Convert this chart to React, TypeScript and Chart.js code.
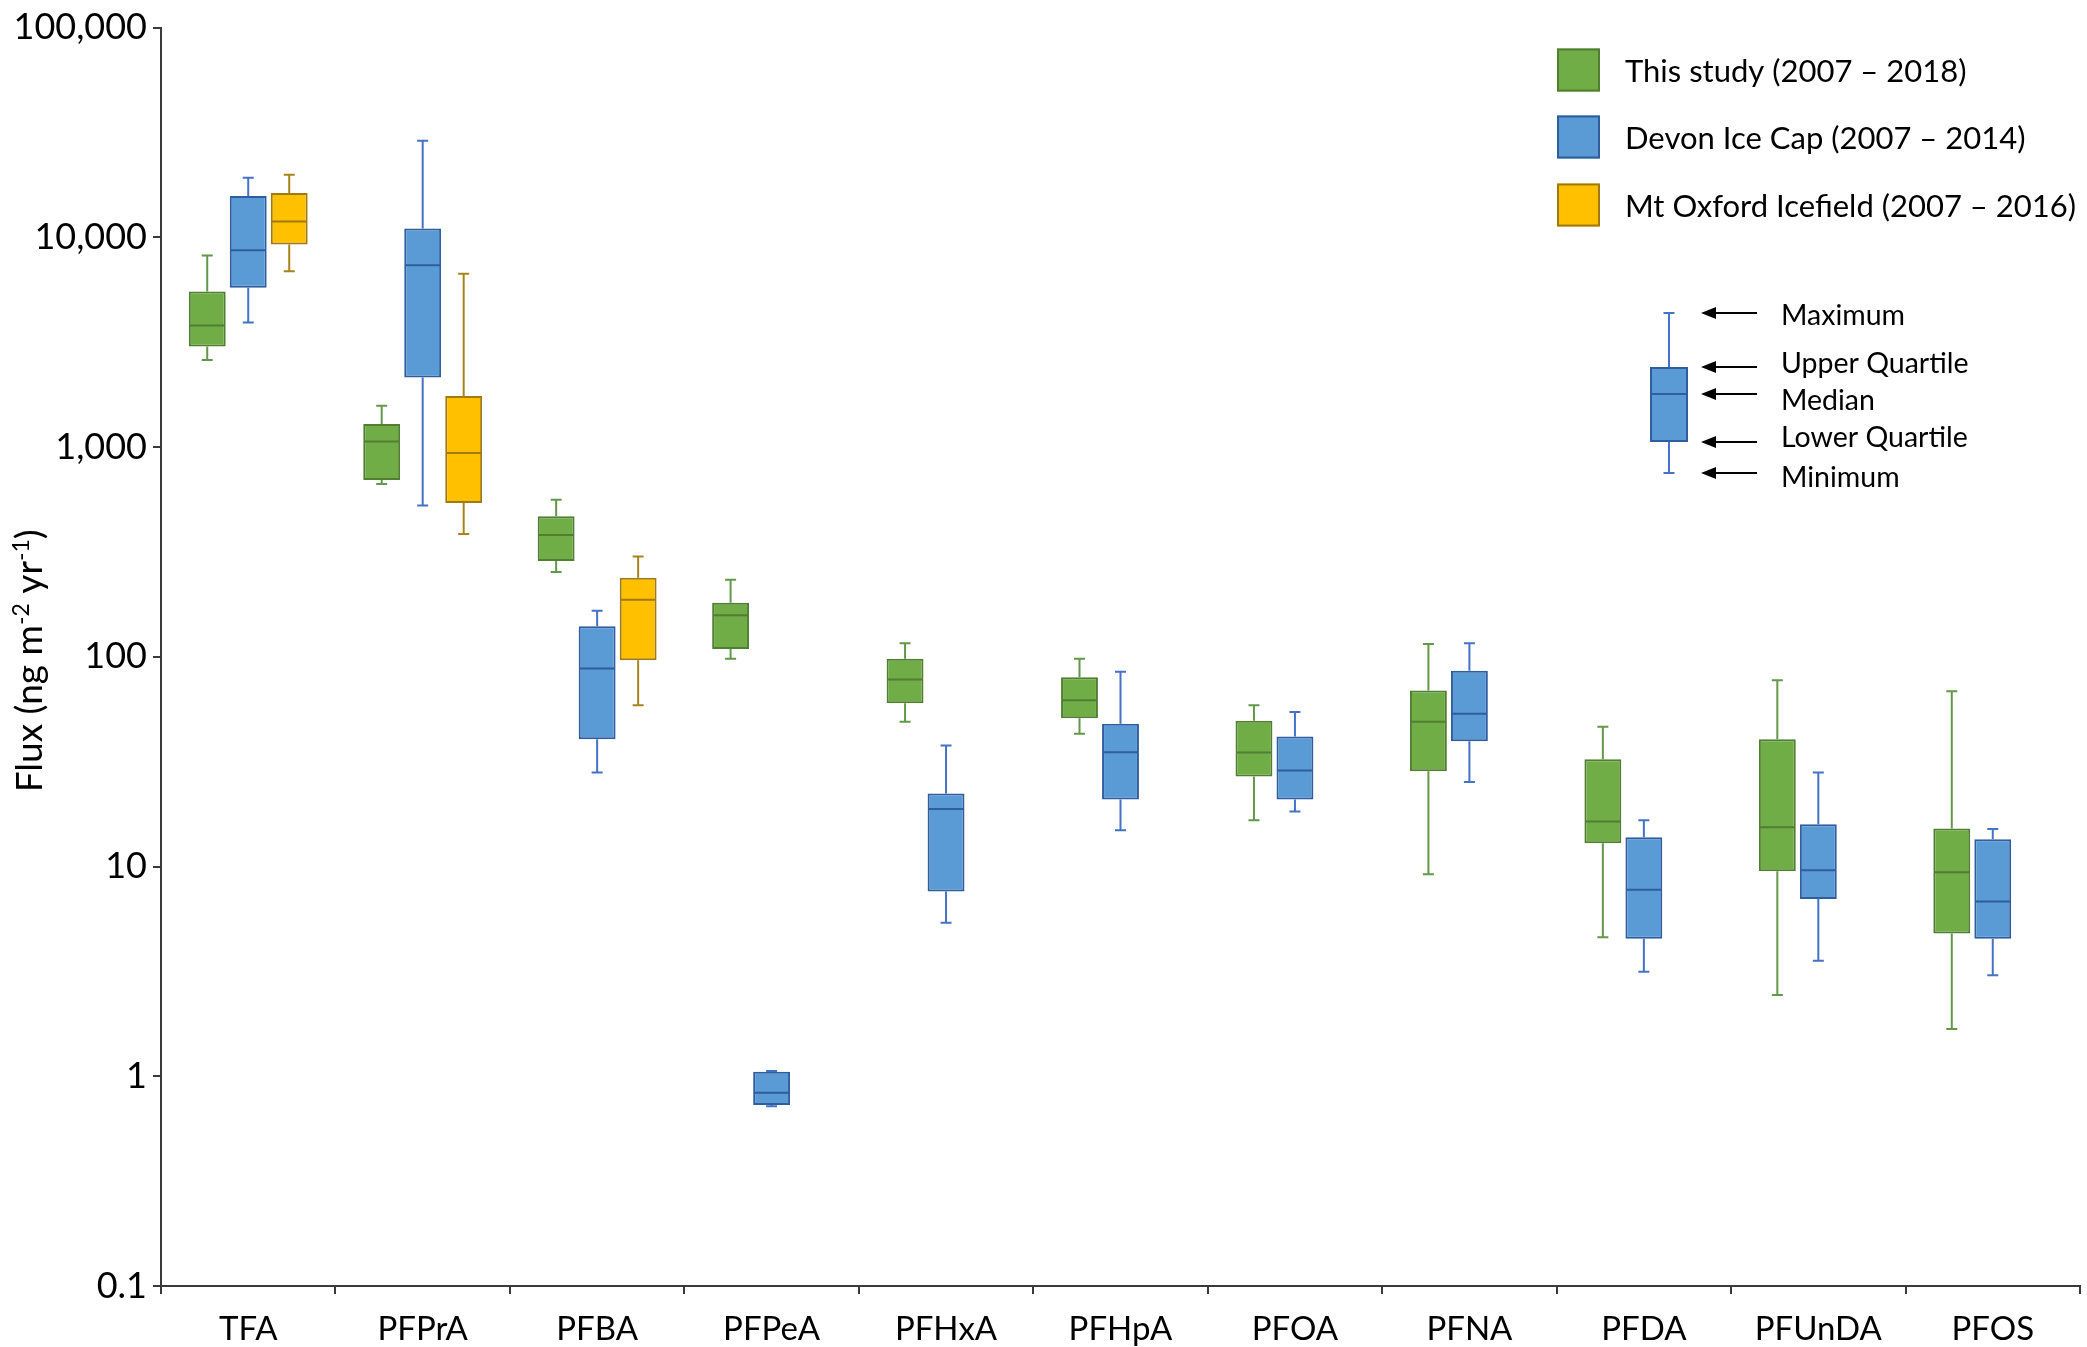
import React, { useEffect, useRef } from 'react';
import { Chart, registerables } from 'chart.js';

Chart.register(...registerables);

const FONT = 'Lato, "Open Sans", sans-serif';

// ---------------- data ----------------
const categories = ['TFA', 'PFPrA', 'PFBA', 'PFPeA', 'PFHxA', 'PFHpA', 'PFOA', 'PFNA', 'PFDA', 'PFUnDA', 'PFOS'];
const yTickValues = [0.1, 1, 10, 100, 1000, 10000, 100000];

const seriesLabels = ['This study (2007 – 2018)', 'Devon Ice Cap (2007 – 2014)', 'Mt Oxford Icefield (2007 – 2016)'];

// This study (2007 – 2018)
const studyMin = [2600, 667, 254, 98, 49, 43, 16.6, 9.2, 4.6, 2.44, 1.68];
const studyQ1 = [3020, 697, 286, 109, 60, 51, 26.9, 28.5, 12.9, 9.5, 4.8];
const studyMedian = [3800, 1064, 381, 158, 78, 62, 35, 49, 16.4, 15.4, 9.4];
const studyQ3 = [5520, 1287, 468, 181, 98, 80, 49.5, 69, 32.5, 40.4, 15.2];
const studyMax = [8190, 1572, 561, 233, 116, 98, 58.7, 115, 46.4, 77.3, 68.5];

// Devon Ice Cap (2007 – 2014)
const devonMin = [3930, 526, 28.1, 0.72, 5.4, 14.9, 18.3, 25.3, 3.15, 3.55, 3.03];
const devonQ1 = [5750, 2146, 40.4, 0.73, 7.6, 20.9, 20.9, 39.6, 4.53, 7.0, 4.53];
const devonMedian = [8680, 7370, 88, 0.835, 18.8, 35.1, 28.7, 53.5, 7.75, 9.6, 6.82];
const devonQ3 = [15750, 11010, 140, 1.05, 22.3, 48, 41.7, 85.7, 13.8, 15.9, 13.5];
const devonMax = [19260, 28880, 166, 1.06, 37.8, 84.8, 54.6, 116, 16.6, 28.1, 15.1];

// Mt Oxford Icefield (2007 – 2016)
const oxfordMin = [6900, 385, 58.8, null, null, null, null, null, null, null, null];
const oxfordQ1 = [9240, 541, 96.2, null, null, null, null, null, null, null, null];
const oxfordMedian = [11890, 937, 187, null, null, null, null, null, null, null, null];
const oxfordQ3 = [16280, 1754, 238, null, null, null, null, null, null, null, null];
const oxfordMax = [19900, 6705, 301, null, null, null, null, null, null, null, null];

const keyLabels = ['Maximum', 'Upper Quartile', 'Median', 'Lower Quartile', 'Minimum'];

// ---------------- styles ----------------
const fillColors = ['#70AD47', '#5B9BD5', '#FFC000'];
const edgeColors = ['#507E32', '#2F5D9E', '#A07A10'];
const whiskerColors = ['#62984A', '#4472C4', '#A8841E'];
const AXIS_COLOR = '#3a3a3a';

type Stats = { min: (number | null)[]; q1: (number | null)[]; med: (number | null)[]; q3: (number | null)[]; max: (number | null)[] };

const stats: Stats[] = [
  { min: studyMin, q1: studyQ1, med: studyMedian, q3: studyQ3, max: studyMax },
  { min: devonMin, q1: devonQ1, med: devonMedian, q3: devonQ3, max: devonMax },
  { min: oxfordMin, q1: oxfordQ1, med: oxfordMedian, q3: oxfordQ3, max: oxfordMax },
];

const CAP = 11;

const boxPlugin = {
  id: 'boxWhiskers',
  beforeDatasetsDraw(chart: any) {
    const ctx = chart.ctx;
    const y = chart.scales.y;
    stats.forEach((s, d) => {
      const meta = chart.getDatasetMeta(d);
      meta.data.forEach((el: any, i: number) => {
        if (s.q1[i] == null) return;
        const x = el.x;
        const yMax = y.getPixelForValue(s.max[i]);
        const yQ3 = y.getPixelForValue(s.q3[i]);
        const yQ1 = y.getPixelForValue(s.q1[i]);
        const yMin = y.getPixelForValue(s.min[i]);
        ctx.save();
        ctx.strokeStyle = whiskerColors[d];
        ctx.lineWidth = 2;
        ctx.beginPath();
        ctx.moveTo(x, yQ3);
        ctx.lineTo(x, yMax);
        ctx.moveTo(x, yQ1);
        ctx.lineTo(x, yMin);
        ctx.moveTo(x - CAP / 2, yMax);
        ctx.lineTo(x + CAP / 2, yMax);
        ctx.moveTo(x - CAP / 2, yMin);
        ctx.lineTo(x + CAP / 2, yMin);
        ctx.stroke();
        ctx.restore();
      });
    });
  },
  afterDatasetsDraw(chart: any) {
    const ctx = chart.ctx;
    const y = chart.scales.y;
    stats.forEach((s, d) => {
      const meta = chart.getDatasetMeta(d);
      meta.data.forEach((el: any, i: number) => {
        if (s.med[i] == null) return;
        const yMed = y.getPixelForValue(s.med[i]);
        const w = el.width;
        ctx.save();
        ctx.strokeStyle = edgeColors[d];
        ctx.lineWidth = 2;
        ctx.beginPath();
        ctx.moveTo(el.x - w / 2 + 1, yMed);
        ctx.lineTo(el.x + w / 2 - 1, yMed);
        ctx.stroke();
        ctx.restore();
      });
    });
  },
};

const decorPlugin = {
  id: 'decor',
  afterDraw(chart: any) {
    const ctx = chart.ctx;
    const area = chart.chartArea;

    // ---- y axis title with superscripts ----
    ctx.save();
    const cy = (area.top + area.bottom) / 2 + 4;
    ctx.translate(42, cy);
    ctx.rotate(-Math.PI / 2);
    ctx.fillStyle = '#000';
    ctx.textBaseline = 'alphabetic';
    ctx.textAlign = 'left';
    const parts: [string, boolean][] = [
      ['Flux (ng m', false],
      ['-2', true],
      [' yr', false],
      ['-1', true],
      [')', false],
    ];
    const mainFont = `37px ${FONT}`;
    const supFont = `23px ${FONT}`;
    let total = 0;
    parts.forEach(([t, sup]) => {
      ctx.font = sup ? supFont : mainFont;
      total += ctx.measureText(t).width;
    });
    let px = -total / 2;
    parts.forEach(([t, sup]) => {
      ctx.font = sup ? supFont : mainFont;
      ctx.fillText(t, px, sup ? -13 : 0);
      px += ctx.measureText(t).width;
    });
    ctx.restore();

    // ---- legend ----
    ctx.save();
    const lx = 1557;
    const size = 43;
    const rowsY = [70, 137, 205];
    ctx.font = `31px ${FONT}`;
    ctx.textBaseline = 'middle';
    ctx.textAlign = 'left';
    seriesLabels.forEach((label, k) => {
      const ry = rowsY[k];
      ctx.fillStyle = fillColors[k];
      ctx.fillRect(lx, ry - size / 2, size, size);
      ctx.strokeStyle = edgeColors[k];
      ctx.lineWidth = 2;
      ctx.strokeRect(lx + 1, ry - size / 2 + 1, size - 2, size - 2);
      ctx.fillStyle = '#000';
      ctx.fillText(label, 1625, ry + 2);
    });
    ctx.restore();

    // ---- box key ----
    ctx.save();
    const kx = 1669;
    const kw = 38;
    const kY = [313, 367, 394, 442, 473]; // max, q3, median, q1, min
    ctx.strokeStyle = whiskerColors[1];
    ctx.lineWidth = 2;
    ctx.beginPath();
    ctx.moveTo(kx, kY[0]);
    ctx.lineTo(kx, kY[1]);
    ctx.moveTo(kx, kY[3]);
    ctx.lineTo(kx, kY[4]);
    ctx.moveTo(kx - CAP / 2, kY[0]);
    ctx.lineTo(kx + CAP / 2, kY[0]);
    ctx.moveTo(kx - CAP / 2, kY[4]);
    ctx.lineTo(kx + CAP / 2, kY[4]);
    ctx.stroke();
    ctx.fillStyle = fillColors[1];
    ctx.fillRect(kx - kw / 2, kY[1], kw, kY[3] - kY[1]);
    ctx.strokeStyle = edgeColors[1];
    ctx.strokeRect(kx - kw / 2 + 1, kY[1] + 1, kw - 2, kY[3] - kY[1] - 2);
    ctx.beginPath();
    ctx.moveTo(kx - kw / 2 + 1, kY[2]);
    ctx.lineTo(kx + kw / 2 - 1, kY[2]);
    ctx.stroke();

    // arrows + labels
    const textBase = [325, 373, 410, 447, 487];
    ctx.fillStyle = '#000';
    ctx.strokeStyle = '#000';
    ctx.font = `28.5px ${FONT}`;
    ctx.textBaseline = 'alphabetic';
    ctx.textAlign = 'left';
    kY.forEach((ay, k) => {
      ctx.lineWidth = 2;
      ctx.beginPath();
      ctx.moveTo(1757, ay);
      ctx.lineTo(1712, ay);
      ctx.stroke();
      ctx.beginPath();
      ctx.moveTo(1701, ay);
      ctx.lineTo(1716, ay - 6);
      ctx.lineTo(1716, ay + 6);
      ctx.closePath();
      ctx.fill();
      ctx.fillText(keyLabels[k], 1781, textBase[k]);
    });
    ctx.restore();
  },
};

export default function App() {
  const ref = useRef<HTMLCanvasElement>(null);

  useEffect(() => {
    const canvas = ref.current;
    if (!canvas) return;
    const rangeData = (s: Stats) => categories.map((_, i) => (s.q1[i] == null ? null : [s.q1[i], s.q3[i]]));
    const chart = new Chart(canvas, {
      type: 'bar',
      data: {
        labels: categories,
        datasets: stats.map((s, d) => ({
          label: seriesLabels[d],
          data: rangeData(s) as any,
          backgroundColor: fillColors[d],
          borderColor: edgeColors[d],
          borderWidth: 2,
          borderSkipped: false,
          categoryPercentage: 0.705,
          barPercentage: 0.9,
        })),
      },
      options: {
        responsive: false,
        animation: false,
        devicePixelRatio: 1,
        layout: { padding: { top: 23, right: 7, left: 0, bottom: 0 } },
        plugins: {
          legend: { display: false },
          tooltip: { enabled: false },
          title: { display: false },
        },
        scales: {
          x: {
            type: 'category',
            grid: {
              display: true,
              drawOnChartArea: false,
              drawTicks: true,
              tickLength: 8,
              offset: true,
              color: AXIS_COLOR,
              lineWidth: 2,
            },
            border: { display: true, color: AXIS_COLOR, width: 2 },
            ticks: {
              font: { family: FONT, size: 33 },
              color: '#000',
              padding: 16,
              autoSkip: false,
              maxRotation: 0,
              minRotation: 0,
            },
            afterFit: (scale: any) => {
              scale.height = 61;
            },
          },
          y: {
            type: 'logarithmic',
            min: 0.1,
            max: 100000,
            grid: {
              display: true,
              drawOnChartArea: false,
              drawTicks: true,
              tickLength: 8,
              color: AXIS_COLOR,
              lineWidth: 2,
            },
            border: { display: true, color: AXIS_COLOR, width: 2 },
            afterBuildTicks: (scale: any) => {
              scale.ticks = yTickValues.map((v) => ({ value: v }));
            },
            ticks: {
              font: { family: FONT, size: 36 },
              color: '#000',
              padding: 6,
              autoSkip: false,
              callback: (v: any) => {
                const n = Number(v);
                return n >= 1000 ? n.toLocaleString('en-US') : String(n);
              },
            },
            afterFit: (scale: any) => {
              scale.width = 161;
            },
          },
        },
      },
      plugins: [boxPlugin, decorPlugin],
    } as any);
    return () => chart.destroy();
  }, []);

  return (
    <div style={{ position: 'fixed', left: 0, top: 0, width: 2087, height: 1347, background: '#fff' }}>
      <canvas ref={ref} width={2087} height={1347} style={{ display: 'block', width: 2087, height: 1347 }} />
    </div>
  );
}
